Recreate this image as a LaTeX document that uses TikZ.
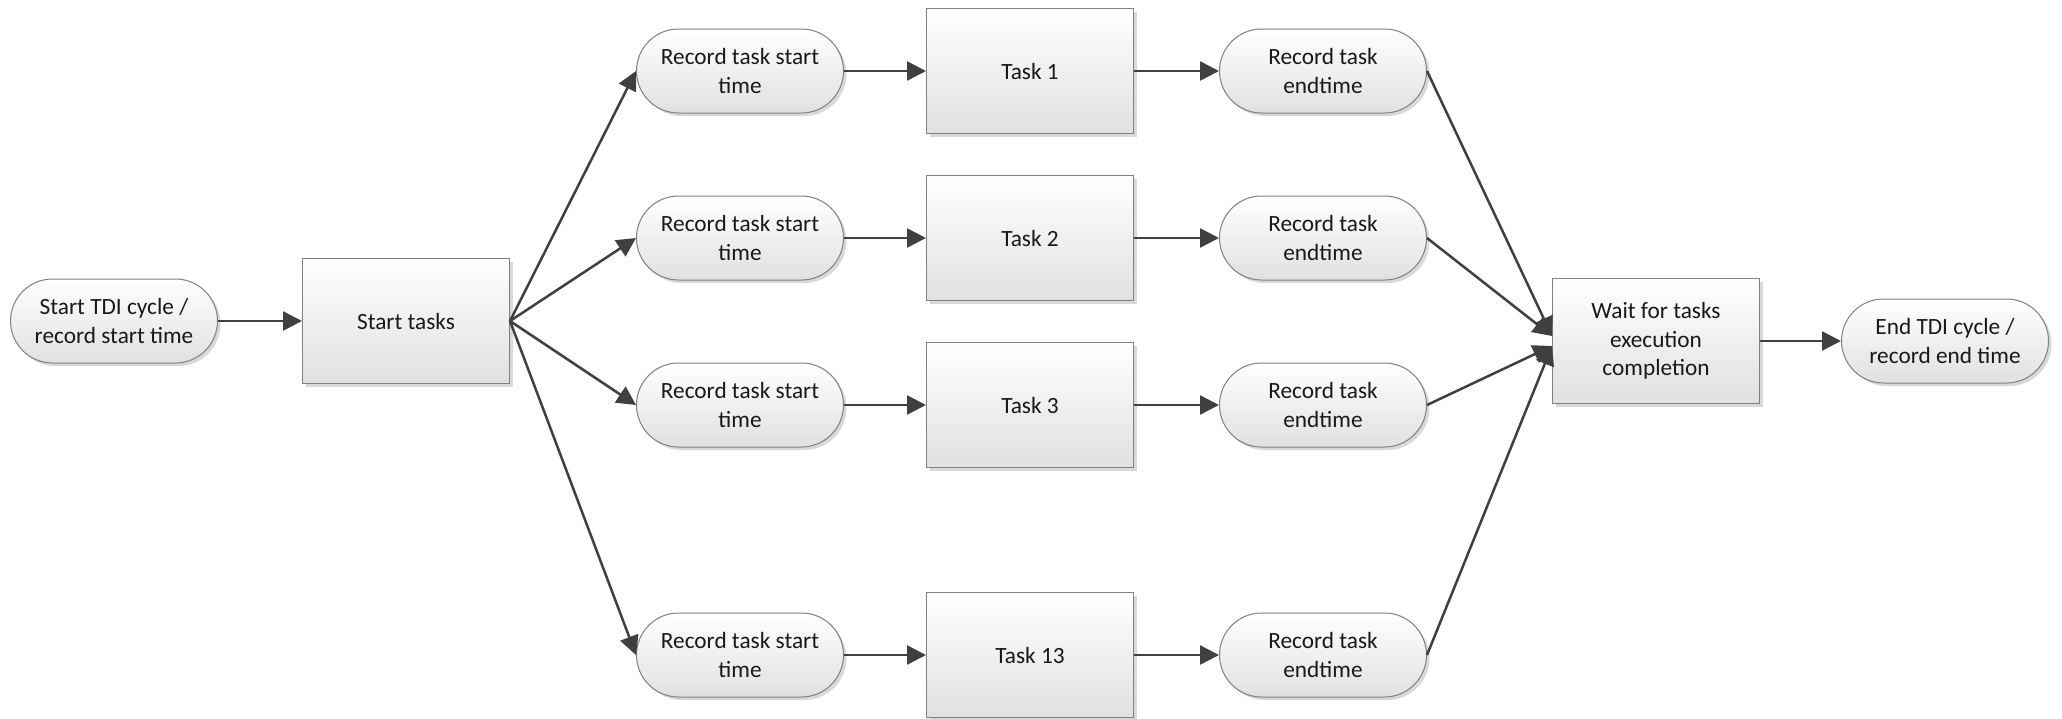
\documentclass[tikz,border=0pt]{standalone}
\usepackage{fontspec}
\setmainfont{Carlito}
\usetikzlibrary{arrows.meta,shadows}
\tikzset{
 base/.style={draw=black!50, line width=1pt, top color=white, bottom color=black!12, align=center, inner sep=0pt, font=\fontsize{23.3}{28.5}\selectfont, text=black!90, drop shadow={shadow xshift=3pt, shadow yshift=-3pt, opacity=0.25, fill=black!60}},
 pill/.style={base, rounded corners=42pt, minimum width=207pt, minimum height=84pt},
 taskbox/.style={base, minimum width=207pt, minimum height=125pt},
 conn/.style={draw=black!75, line width=2.5pt, -{Triangle[length=19pt,width=19pt]}},
}
\begin{document}
\begin{tikzpicture}[x=1pt,y=-1pt]
\useasboundingbox (0,0) rectangle (2062,718);
\node[pill] (tdi) at (114,321) {Start TDI cycle /\\record start time};
\node[taskbox] (st) at (406,321) {Start tasks};
\foreach \r/\y/\t in {1/71/Task 1, 2/238/Task 2, 3/405/Task 3, 4/655/Task 13}{
  \node[pill] (rs\r) at (740,\y) {Record task start\\time};
  \node[taskbox] (t\r) at (1030,\y) {\t};
  \node[pill] (re\r) at (1323,\y) {Record task\\endtime};
}
\node[taskbox] (wait) at (1656,341) {Wait for tasks\\execution\\completion};
\node[pill] (end) at (1945,341) {End TDI cycle /\\record end time};
\coordinate (inA) at ([yshift=5pt]wait.west);
\coordinate (inB) at ([yshift=-5pt]wait.west);
\draw[conn] (tdi.east) -- (st.west);
\foreach \r in {1,2,3,4}{
  \draw[conn] (st.east) -- (rs\r.west);
  \draw[conn] (rs\r.east) -- (t\r.west);
  \draw[conn] (t\r.east) -- (re\r.west);
}
\draw[conn] (re1.east) -- (inA);
\draw[conn] (re2.east) -- (inA);
\draw[conn] (re3.east) -- (inB);
\draw[conn] (re4.east) -- (inB);
\draw[conn] (wait.east) -- (end.west);
\end{tikzpicture}
\end{document}
